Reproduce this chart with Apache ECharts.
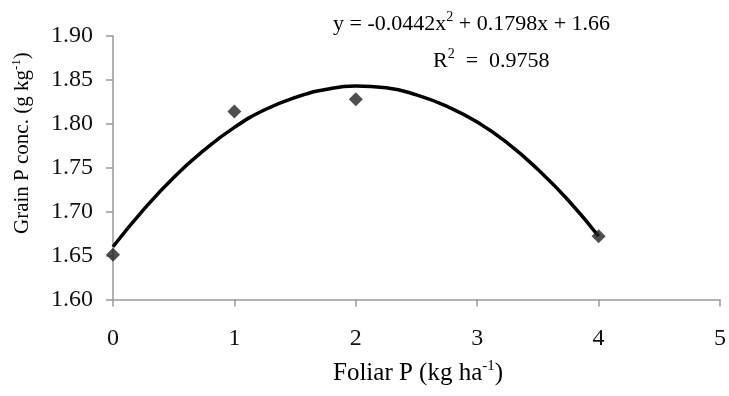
<!DOCTYPE html>
<html><head><meta charset="utf-8">
<script src="https://cdn.jsdelivr.net/npm/echarts@6/dist/echarts.min.js"></script>
<style>html,body{margin:0;padding:0;background:#fff}#c{width:729px;height:396px}</style>
</head><body><div id="c"></div>
<script>
// Observed data points
const foliarP = [0, 1, 2, 4];
const grainP = [1.651, 1.814, 1.828, 1.672];
// Trend line
const trendX = [0, 0.25, 0.5, 0.75, 1, 1.25, 1.5, 1.75, 2, 2.25, 2.5, 2.75, 3, 3.25, 3.5, 3.75, 4];
const trendY = [1.660, 1.702, 1.739, 1.770, 1.796, 1.816, 1.830, 1.839, 1.843, 1.841, 1.833, 1.820, 1.802, 1.778, 1.748, 1.713, 1.672];
const xTicks = [0, 1, 2, 3, 4, 5];
const yTicks = [1.60, 1.65, 1.70, 1.75, 1.80, 1.85, 1.90];

const FONT = '"Liberation Serif", "Times New Roman", serif';
const chart = echarts.init(document.getElementById('c'));
function rich(size, supSize, raise) {
  return {
    n: { fontSize: size, fontFamily: FONT, color: '#111' },
    s: { fontSize: supSize, fontFamily: FONT, color: '#111', padding: [0, 0, raise, 0] }
  };
}
chart.setOption({
  animation: false,
  backgroundColor: '#fff',
  grid: { left: 113, right: 7, top: 36, bottom: 96.5 },
  xAxis: {
    type: 'value', min: xTicks[0], max: xTicks[xTicks.length - 1], interval: 1,
    axisLine: { lineStyle: { color: '#999', width: 1.5 } },
    axisTick: { show: true, length: 7, lineStyle: { color: '#999', width: 1.5 } },
    axisLabel: { fontSize: 24, fontFamily: FONT, color: '#111', margin: 27 },
    splitLine: { show: false }
  },
  yAxis: {
    type: 'value', min: yTicks[0], max: yTicks[yTicks.length - 1], interval: 0.05,
    axisLine: { show: true, lineStyle: { color: '#999', width: 1.5 } },
    axisTick: { show: true, length: 7, lineStyle: { color: '#999', width: 1.5 } },
    axisLabel: { fontSize: 24, fontFamily: FONT, color: '#111', margin: 20, padding: [5, 0, 0, 0], formatter: v => v.toFixed(2) },
    splitLine: { show: false }
  },
  graphic: [
    { type: 'text', left: 333, top: 10, style: { rich: rich(22, 14, 14), text: '{n|y = -0.0442x}{s|2}{n| + 0.1798x + 1.66}' } },
    { type: 'text', left: 433, top: 47, style: { rich: rich(22, 14, 14), text: '{n|R}{s|2}{n|  =  0.9758}' } },
    { type: 'text', left: 333, top: 359, style: { rich: rich(25, 15, 14), text: '{n|Foliar P (kg ha}{s|-1}{n|)}' } },
    { type: 'text', x: 10, y: 234, rotation: Math.PI / 2, style: { rich: rich(21, 13, 11), text: '{n|Grain P conc. (g kg}{s|-1}{n|)}' } }
  ],
  series: [
    {
      type: 'line', data: trendX.map((x, i) => [x, trendY[i]]), smooth: true, showSymbol: false,
      lineStyle: { color: '#000', width: 3.5 }, z: 2
    },
    {
      type: 'scatter', data: foliarP.map((x, i) => [x, grainP[i]]), symbol: 'diamond', symbolSize: 14,
      itemStyle: { color: '#222' }, z: 3
    }
  ]
});
</script></body></html>
